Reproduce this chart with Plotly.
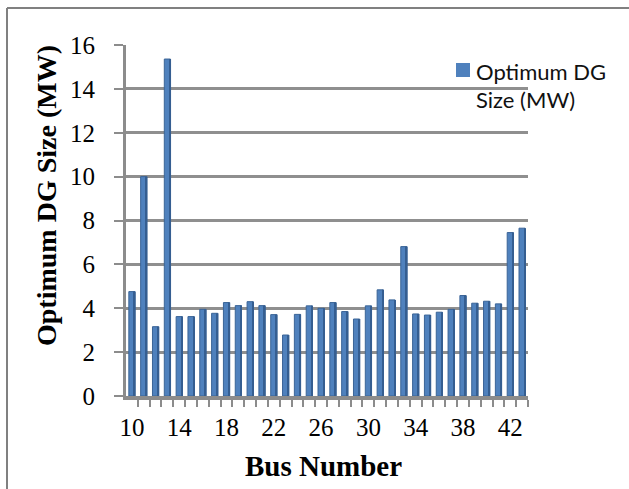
import plotly.graph_objects as go

# Bus numbers and the optimum DG size found at each bus (MW)
bus_numbers = list(range(10, 44))
dg_size_mw = [
    4.76, 10.0, 3.16, 15.36, 3.62, 3.62, 3.95, 3.77, 4.26, 4.12,
    4.30, 4.12, 3.71, 2.78, 3.72, 4.11, 4.00, 4.26, 3.85, 3.51,
    4.11, 4.84, 4.38, 6.81, 3.74, 3.69, 3.82, 3.95, 4.58, 4.23,
    4.32, 4.20, 7.45, 7.65,
]
x_tick_values = list(range(10, 43, 4))
y_tick_values = list(range(0, 17, 2))
legend_lines = ["Optimum DG", "Size (MW)"]

W, H = 629, 489
L, R, T, B = 126, 101, 45, 93
plot_w = W - L - R
plot_h = H - T - B


def px_to_paper(px, py):
    return (px - L) / plot_w, (H - B - py) / plot_h


fig = go.Figure()

# main columns
fig.add_trace(go.Bar(
    x=bus_numbers,
    y=dg_size_mw,
    width=0.52,
    marker=dict(color="#4F81BD", line=dict(color="#3A6497", width=1)),
    showlegend=False,
))

# darker side face on each column for the 3-D look
fig.add_trace(go.Bar(
    x=bus_numbers,
    y=dg_size_mw,
    width=0.14,
    offset=0.17,
    marker=dict(color="#355E91", line=dict(width=0)),
    showlegend=False,
    hoverinfo="skip",
))

serif = "Liberation Serif, Times New Roman, serif"
sans = "Lato, Open Sans, sans-serif"

fig.update_layout(
    width=W,
    height=H,
    margin=dict(l=L, r=R, t=T, b=B, pad=0),
    paper_bgcolor="white",
    plot_bgcolor="white",
    barmode="overlay",
    showlegend=False,
    xaxis=dict(
        range=[9.5, 43.5],
        tickmode="array",
        tickvals=x_tick_values,
        ticks="",
        showgrid=False,
        showline=True,
        linecolor="#8c8c8c",
        linewidth=4,
        zeroline=False,
        tickfont=dict(family=serif, size=25, color="#000"),
        ticklabelstandoff=6,
        minor=dict(
            tickmode="array",
            tickvals=[b + 0.5 for b in bus_numbers],
            ticks="outside",
            ticklen=7,
            tickwidth=2,
            tickcolor="#8c8c8c",
        ),
    ),
    yaxis=dict(
        range=[0, 16],
        tickmode="array",
        tickvals=y_tick_values,
        ticks="outside",
        ticklen=9,
        tickwidth=2,
        tickcolor="#8c8c8c",
        showgrid=True,
        gridcolor="#8f8f8f",
        gridwidth=2.5,
        showline=True,
        linecolor="#8c8c8c",
        linewidth=3,
        zeroline=False,
        tickfont=dict(family=serif, size=25, color="#000"),
        ticklabelstandoff=14,
    ),
)

# legend: swatch plus two-line label
sx0, sy0 = px_to_paper(456, 63)
sx1, sy1 = px_to_paper(470, 77)
fig.add_shape(type="rect", xref="paper", yref="paper",
              x0=sx0, y0=sy0, x1=sx1, y1=sy1,
              fillcolor="#4F81BD", line=dict(width=0))
lx, ly = px_to_paper(474, 71)
fig.add_annotation(
    text=legend_lines[0], x=lx, y=ly, xref="paper", yref="paper",
    showarrow=False, xanchor="left", yanchor="middle",
    font=dict(family=sans, size=22, color="#111"),
)
lx, ly = px_to_paper(474, 100)
fig.add_annotation(
    text=legend_lines[1], x=lx, y=ly, xref="paper", yref="paper",
    showarrow=False, xanchor="left", yanchor="middle",
    font=dict(family=sans, size=22, color="#111"),
)

# axis titles
tx, ty = px_to_paper(323, 466)
fig.add_annotation(
    text="<b>Bus Number</b>", x=tx, y=ty, xref="paper", yref="paper",
    showarrow=False, font=dict(family=serif, size=29, color="#000"),
    xanchor="center", yanchor="middle",
)
tx, ty = px_to_paper(46, 196)
fig.add_annotation(
    text="<b>Optimum DG Size (MW)</b>", x=tx, y=ty, xref="paper", yref="paper",
    showarrow=False, textangle=-90, font=dict(family=serif, size=28, color="#000"),
    xanchor="center", yanchor="middle",
)

# outer chart frame (top and left edges)
x0, y0 = px_to_paper(7, 8)
x1, y1 = px_to_paper(640, 500)
fig.add_shape(type="line", xref="paper", yref="paper",
              x0=x0, y0=y0, x1=x1, y1=y0, line=dict(color="#808080", width=2))
fig.add_shape(type="line", xref="paper", yref="paper",
              x0=x0, y0=y0, x1=x0, y1=y1, line=dict(color="#808080", width=2))

fig.write_html("out.html")
